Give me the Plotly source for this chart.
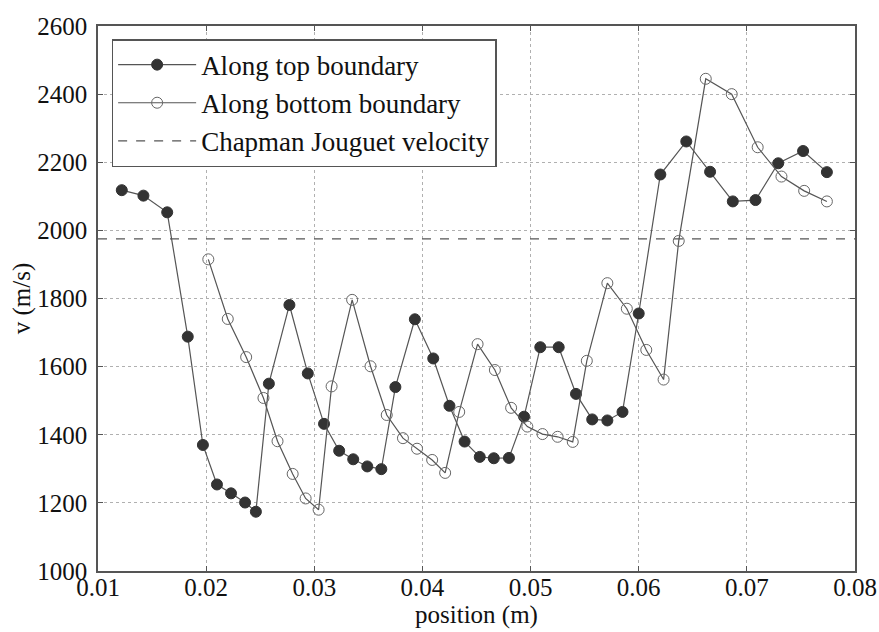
import plotly.graph_objects as go

# Along top boundary
top_x = [0.0122, 0.0142, 0.0164, 0.0183, 0.0197, 0.0210, 0.0223, 0.0236, 0.0246, 0.0258,
         0.0277, 0.0294, 0.0309, 0.0323, 0.0336, 0.0349, 0.0362, 0.0375, 0.0393, 0.0410,
         0.0425, 0.0439, 0.0453, 0.0466, 0.0480, 0.0494, 0.0509, 0.0526, 0.0542, 0.0557,
         0.0571, 0.0585, 0.0600, 0.0620, 0.0644, 0.0666, 0.0687, 0.0708, 0.0729, 0.0752, 0.0774]
top_v = [2118, 2102, 2053, 1688, 1370, 1254, 1228, 1201, 1174, 1550,
         1781, 1580, 1432, 1353, 1328, 1307, 1299, 1540, 1739, 1624,
         1485, 1380, 1335, 1331, 1332, 1453, 1657, 1657, 1520, 1445,
         1442, 1467, 1756, 2164, 2261, 2172, 2085, 2089, 2197, 2233, 2171]

# Along bottom boundary
bot_x = [0.0202, 0.0220, 0.0237, 0.0253, 0.0266, 0.0280, 0.0292, 0.0304, 0.0316, 0.0335,
         0.0352, 0.0367, 0.0382, 0.0395, 0.0409, 0.0421, 0.0434, 0.0451, 0.0467, 0.0482,
         0.0497, 0.0511, 0.0525, 0.0539, 0.0552, 0.0571, 0.0589, 0.0607, 0.0623, 0.0637,
         0.0662, 0.0686, 0.0710, 0.0732, 0.0753, 0.0774]
bot_v = [1915, 1740, 1628, 1508, 1381, 1285, 1213, 1180, 1542, 1796,
         1601, 1458, 1390, 1359, 1326, 1288, 1467, 1666, 1590, 1479,
         1424, 1402, 1394, 1379, 1617, 1845, 1770, 1649, 1562, 1969,
         2445, 2400, 2244, 2158, 2116, 2085]

# Chapman Jouguet velocity
cj_velocity = 1975
x_range = [0.01, 0.08]
y_range = [1000, 2600]

x_ticks = [0.01, 0.02, 0.03, 0.04, 0.05, 0.06, 0.07, 0.08]
x_tick_labels = ["0.01", "0.02", "0.03", "0.04", "0.05", "0.06", "0.07", "0.08"]
y_ticks = [1000, 1200, 1400, 1600, 1800, 2000, 2200, 2400, 2600]

FONT = "Liberation Serif"
DARK = "#333333"
LINE = "#555555"
TXT = "#111111"

fig = go.Figure()

fig.add_trace(go.Scatter(
    x=top_x, y=top_v, mode="lines+markers", name="Along top boundary",
    line=dict(color=LINE, width=1.2),
    marker=dict(symbol="circle", size=11, color=DARK, line=dict(color=DARK, width=1)),
))
fig.add_trace(go.Scatter(
    x=bot_x, y=bot_v, mode="lines+markers", name="Along bottom boundary",
    line=dict(color=LINE, width=1.2),
    marker=dict(symbol="circle-open", size=11, color="#666666", line=dict(width=1)),
))
fig.add_trace(go.Scatter(
    x=x_range, y=[cj_velocity, cj_velocity], mode="lines", name="Chapman Jouguet velocity",
    line=dict(color=LINE, width=1.2, dash="dash"),
))

axis_common = dict(
    showline=True, linecolor=LINE, linewidth=1.5, mirror="ticks",
    ticks="inside", ticklen=5, tickcolor=LINE, tickwidth=1,
    showgrid=True, gridcolor="#b0b0b0", gridwidth=1, griddash="dot",
    zeroline=False, ticklabeloverflow="allow", automargin=False,
    tickfont=dict(family=FONT, size=25, color=TXT),
)

fig.update_layout(
    width=879, height=632,
    margin=dict(l=98, r=24, t=26, b=61),
    paper_bgcolor="white", plot_bgcolor="white",
    font=dict(family=FONT, size=25, color=TXT),
    showlegend=True,
    legend=dict(
        x=0.018, y=0.976, xanchor="left", yanchor="top",
        bgcolor="white", bordercolor=LINE, borderwidth=1.5,
        font=dict(family=FONT, size=27, color=TXT),
        itemwidth=78, tracegroupgap=0,
    ),
    xaxis=dict(range=x_range, tickvals=x_ticks, ticktext=x_tick_labels,
               ticklabelstandoff=-7,
               title=dict(text="position (m)", standoff=0,
                          font=dict(family=FONT, size=25, color=TXT)),
               **axis_common),
    yaxis=dict(range=y_range, tickvals=y_ticks, ticklabelstandoff=4,
               title=dict(text="v (m/s)", standoff=0,
                          font=dict(family=FONT, size=25, color=TXT)),
               **axis_common),
)

# remove the browser's default body margin so the figure sits at the page origin
fig.write_html("out.html",
               config={"displayModeBar": False},
               post_script="document.body.style.margin='0';document.body.style.overflow='hidden';")
